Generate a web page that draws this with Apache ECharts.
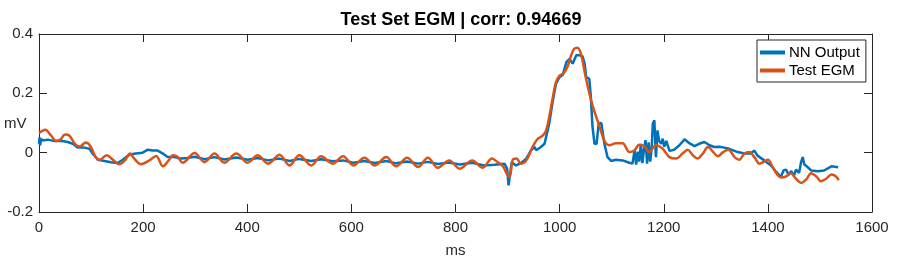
<!DOCTYPE html>
<html>
<head>
<meta charset="utf-8">
<script src="https://cdn.jsdelivr.net/npm/echarts@6/dist/echarts.min.js"></script>
<style>html,body{margin:0;padding:0;background:#fff;}#c{width:899px;height:267px;}</style>
</head>
<body>
<div id="c"></div>
<script>
const titleText = 'Test Set EGM | corr: 0.94669';
const yName = 'mV';
const xName = 'ms';
const xTicks = [0, 200, 400, 600, 800, 1000, 1200, 1400, 1600];
const yTicks = [-0.2, 0, 0.2, 0.4];

const egmT = [0,12,23,33,41,50,58,69,78,90,99,109,116,130,142,154,165,175,183,196,212,225,238,250,257,266,276,
  299,318,337,356,379,401,420,440,462,481,500,523,542,564,
  584,604,625,645,667,686,707,728,747,766,788,808,832,852,870,881,891,900,904,910,917,926,936,948,958,968,974,980,
  987,993,1000,1008,1016,1022,1028,1034,1041,1050,1063,1076,1086,1095,1108,1121,1134,1144,1153,1163,1172,1185,1198,
  1211,1224,1236,1246,1256,1265,1275,1285,1295,1304,1314,1324,1336,1345,1355,1364,1374,1384,1393,1400,1409,1419,
  1426,1435,1444,1454,1464,1474,1483,1493,1502,1512,1522,1531,1536];
const egmV = [0.066,0.077,0.058,0.039,0.044,0.061,0.058,0.030,0.021,0.034,0.021,-0.015,-0.024,-0.009,-0.024,-0.039,-0.026,-0.003,-0.020,-0.039,-0.026,-0.011,-0.046,-0.024,-0.009,-0.014,-0.034,
  -0.001,-0.032,-0.003,-0.034,-0.003,-0.034,-0.009,-0.037,-0.007,-0.043,-0.009,-0.043,-0.012,-0.037,
  -0.012,-0.043,-0.017,-0.043,-0.015,-0.046,-0.017,-0.048,-0.017,-0.051,-0.026,-0.054,-0.026,-0.051,-0.020,-0.032,-0.046,-0.076,-0.082,-0.024,-0.020,-0.037,-0.026,0.019,0.047,0.058,0.075,0.120,
  0.187,0.238,0.260,0.268,0.294,0.328,0.350,0.354,0.333,0.255,0.160,0.092,0.040,0.025,0.032,0.032,0.002,0.008,0.027,0.022,0.002,0.025,0.013,
  -0.015,-0.020,-0.003,0.010,-0.009,-0.020,-0.003,0.019,0.002,-0.012,0.002,0.010,-0.015,-0.024,-0.003,0.002,-0.015,-0.037,-0.030,-0.024,-0.048,-0.076,
  -0.084,-0.080,-0.069,-0.088,-0.102,-0.090,-0.069,-0.080,-0.096,-0.088,-0.074,-0.080,-0.093];

const nnT = [0,1,2,4,8,17,30,42,55,65,74,87,97,103,113,126,138,151,161,174,186,199,209,218,228,238,247,260,273,285,
  299,318,337,356,379,401,420,440,462,481,500,523,542,564,
  584,604,625,645,667,686,707,728,747,766,788,808,832,
  855,875,894,899,902,905,908,916,926,936,945,952,955,964,971,980,987,993,1000,1006,1013,1019,1025,1032,1038,1044,1048,
  1051,1057,1060,1063,1067,1071,1075,1080,1086,1092,1099,1108,1121,1134,1140,1144,1147,1150,1153,1156,1159,1162,1165,
  1168,1171,1174,1177,1179,1182,1184,1185,1188,1191,1195,1198,1201,1205,1211,1220,1230,1240,1249,1259,1268,1278,1288,
  1297,1307,1316,1326,1342,1355,1367,1374,1380,1393,1406,1416,1425,1430,1435,1440,1445,1450,1454,1460,1464,1467,1470,
  1474,1483,1496,1508,1522,1535];
const nnV = [0.030,0.052,0.024,0.046,0.041,0.044,0.039,0.040,0.036,0.030,0.017,0.017,0.013,-0.003,-0.024,-0.028,-0.032,-0.035,-0.024,-0.006,-0.003,0.000,0.010,0.007,0.007,-0.003,-0.015,-0.015,-0.020,-0.018,
  -0.014,-0.022,-0.015,-0.023,-0.016,-0.024,-0.018,-0.026,-0.020,-0.028,-0.021,-0.028,-0.022,-0.029,
  -0.026,-0.034,-0.028,-0.035,-0.028,-0.036,-0.030,-0.037,-0.031,-0.038,-0.033,-0.040,-0.034,
  -0.043,-0.041,-0.037,-0.053,-0.110,-0.070,-0.032,-0.043,-0.035,-0.020,0.008,0.019,0.008,0.019,0.030,0.098,0.176,0.232,0.255,0.262,0.305,0.316,0.300,0.328,0.328,0.325,0.300,
  0.255,0.249,0.187,0.090,0.030,0.030,0.098,0.100,0.030,-0.015,-0.028,-0.024,-0.026,-0.034,-0.037,0.008,-0.040,0.003,-0.030,0.030,-0.035,0.010,0.042,
  -0.037,0.035,-0.030,0.020,0.098,0.109,0.020,-0.015,0.075,0.040,0.030,0.047,0.020,0.040,0.006,0.010,0.025,0.045,0.032,0.022,0.030,0.036,0.025,
  0.019,0.020,0.017,0.013,0.002,-0.003,-0.003,0.007,-0.010,-0.026,-0.043,-0.065,-0.082,-0.060,-0.057,-0.075,-0.062,-0.078,-0.057,-0.068,-0.030,-0.015,-0.040,
  -0.045,-0.060,-0.063,-0.060,-0.046,-0.049];

const FONT = '"Liberation Sans", Arial, Helvetica, sans-serif';
const AX = '#262626';
const xMin = xTicks[0], xMax = xTicks[xTicks.length - 1], xInt = xTicks[1] - xTicks[0];
const yMin = yTicks[0], yMax = yTicks[yTicks.length - 1], yInt = 0.2;

const chart = echarts.init(document.getElementById('c'), null, {renderer: 'canvas'});
const tickStyle = {show: true, inside: true, length: 8, lineStyle: {color: AX, width: 1}};
const lineAx = {show: true, onZero: false, lineStyle: {color: AX, width: 1}};
chart.setOption({
  animation: false,
  backgroundColor: '#fff',
  title: {
    text: titleText, left: 456, top: 5, textAlign: 'center',
    textStyle: {fontFamily: FONT, fontSize: 18, fontWeight: 'bold', color: '#000', lineHeight: 20}
  },
  graphic: [{
    type: 'text', left: 4, top: 116, silent: true,
    style: {text: yName, fontFamily: FONT, fontSize: 15, fill: AX}
  }],
  grid: {left: 39, top: 34, width: 833, height: 178, containLabel: false, outerBoundsMode: 'none'},
  legend: {
    orient: 'vertical', left: 757, top: 40, itemWidth: 25, itemHeight: 4, itemGap: 3,
    icon: 'rect', backgroundColor: '#fff', borderColor: AX, borderWidth: 1, borderRadius: 0,
    padding: [5, 6, 4, 3],
    textStyle: {fontFamily: FONT, fontSize: 15, color: '#000', padding: [0, 0, 0, -1]},
    data: ['NN Output', 'Test EGM']
  },
  xAxis: [{
    type: 'value', min: xMin, max: xMax, interval: xInt, position: 'bottom',
    axisLine: lineAx, axisTick: tickStyle, splitLine: {show: false},
    axisLabel: {fontFamily: FONT, fontSize: 15, color: AX, margin: 8, formatter: v => String(v)},
    name: xName, nameLocation: 'middle', nameGap: 31,
    nameTextStyle: {fontFamily: FONT, fontSize: 15, color: AX}
  }, {
    type: 'value', min: xMin, max: xMax, interval: xInt, position: 'top',
    axisLine: lineAx, axisTick: tickStyle, splitLine: {show: false}, axisLabel: {show: false}
  }],
  yAxis: [{
    type: 'value', min: yMin, max: yMax, interval: yInt, position: 'left',
    axisLine: lineAx, axisTick: tickStyle, splitLine: {show: false},
    axisLabel: {fontFamily: FONT, fontSize: 15, color: AX, margin: 6,
      formatter: v => Math.abs(v) < 1e-9 ? '0' : v.toFixed(1)}
  }, {
    type: 'value', min: yMin, max: yMax, interval: yInt, position: 'right',
    axisLine: lineAx, axisTick: tickStyle, splitLine: {show: false}, axisLabel: {show: false}
  }],
  series: [{
    name: 'NN Output', type: 'line', showSymbol: false, symbol: 'none',
    data: nnT.map((t, i) => [t, nnV[i]]),
    lineStyle: {color: '#0072BD', width: 2.5}, itemStyle: {color: '#0072BD'},
    sampling: null, clip: true
  }, {
    name: 'Test EGM', type: 'line', showSymbol: false, symbol: 'none', smooth: 0.35,
    data: egmT.map((t, i) => [t, egmV[i]]),
    lineStyle: {color: '#D95319', width: 2.5}, itemStyle: {color: '#D95319'},
    clip: true
  }]
});
</script>
</body>
</html>
